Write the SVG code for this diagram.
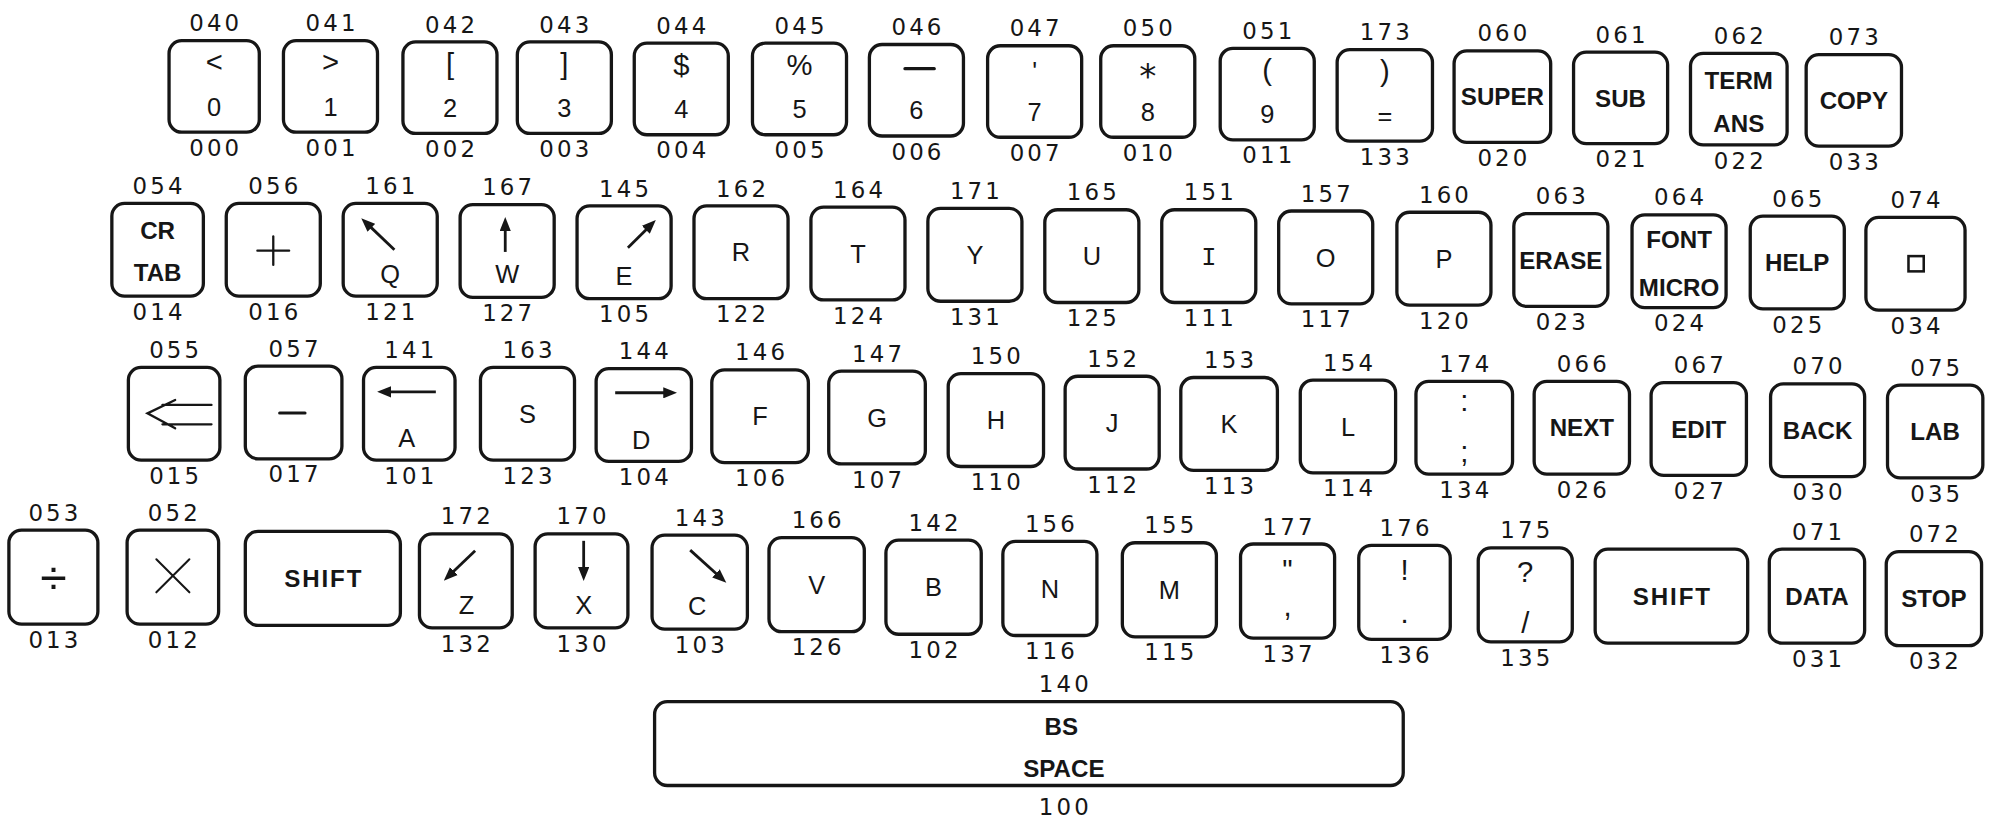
<svg xmlns="http://www.w3.org/2000/svg" width="1993" height="825" viewBox="0 0 1993 825">
<style>
.k{fill:#fff;stroke:#161616;stroke-width:2.6}
.c{font-family:"DejaVu Sans","Liberation Sans",sans-serif;font-size:18px;letter-spacing:2.5px;text-anchor:middle;fill:#161616}
.g{font-family:"Liberation Sans",Arial,sans-serif;font-size:20px;text-anchor:middle;fill:#161616}
.s{font-size:23px}
.m{font-family:"Liberation Mono",monospace;font-size:20px;text-anchor:middle;fill:#161616}
.b{font-family:"Liberation Sans",Arial,sans-serif;font-size:19px;font-weight:bold;text-anchor:middle;fill:#161616}
.sh{letter-spacing:1.5px}
.ln{stroke:#161616;stroke-width:2;fill:none;stroke-linecap:round}
.ar{stroke:#161616;stroke-width:2.2;fill:none;marker-end:url(#ah)}
</style>
<defs>
<marker id="ah" viewBox="0 0 10 8" refX="2" refY="4" markerWidth="11" markerHeight="9" markerUnits="userSpaceOnUse" orient="auto"><path d="M0,0 L10,4 L0,8 z" fill="#161616"/></marker>
</defs>
<rect width="1993" height="825" fill="#fff"/>
<g transform="scale(1.27105)">
<g id="row1">
<g id="k040" transform="translate(133,32)"><rect class="k" width="71" height="72" rx="10"/><text class="c" x="36.75" y="-7.4">040</text><text class="c" x="36.75" y="90.6">000</text><text class="g s" x="35.5" y="25">&lt;</text><text class="g" x="35.5" y="59">0</text></g>
<g id="k041" transform="translate(223,32)"><rect class="k" width="74" height="72" rx="10"/><text class="c" x="38.25" y="-7.4">041</text><text class="c" x="38.25" y="90.6">001</text><text class="g s" x="37" y="25">&gt;</text><text class="g" x="37" y="59">1</text></g>
<g id="k042" transform="translate(317,33)"><rect class="k" width="74" height="72" rx="10"/><text class="c" x="38.25" y="-7.4">042</text><text class="c" x="38.25" y="90.6">002</text><text class="g s" x="37" y="25">[</text><text class="g" x="37" y="59">2</text></g>
<g id="k043" transform="translate(407,33)"><rect class="k" width="74" height="72" rx="10"/><text class="c" x="38.25" y="-7.4">043</text><text class="c" x="38.25" y="90.6">003</text><text class="g s" x="37" y="25">]</text><text class="g" x="37" y="59">3</text></g>
<g id="k044" transform="translate(499,34)"><rect class="k" width="74" height="72" rx="10"/><text class="c" x="38.25" y="-7.4">044</text><text class="c" x="38.25" y="90.6">004</text><text class="g s" x="37" y="25">$</text><text class="g" x="37" y="59">4</text></g>
<g id="k045" transform="translate(592,34)"><rect class="k" width="74" height="72" rx="10"/><text class="c" x="38.25" y="-7.4">045</text><text class="c" x="38.25" y="90.6">005</text><text class="g s" x="37" y="25">%</text><text class="g" x="37" y="59">5</text></g>
<g id="k046" transform="translate(684,35)"><rect class="k" width="74" height="72" rx="10"/><text class="c" x="38.25" y="-7.4">046</text><text class="c" x="38.25" y="90.6">006</text><line class="ln" x1="28" y1="19" x2="51" y2="19" style="stroke-width:2.6"/><text class="g" x="37" y="59">6</text></g>
<g id="k047" transform="translate(777,36)"><rect class="k" width="74" height="72" rx="10"/><text class="c" x="38.25" y="-7.4">047</text><text class="c" x="38.25" y="90.6">007</text><text class="g" x="37" y="27">'</text><text class="g" x="37" y="59">7</text></g>
<g id="k050" transform="translate(866,36)"><rect class="k" width="74" height="72" rx="10"/><text class="c" x="38.25" y="-7.4">050</text><text class="c" x="38.25" y="90.6">010</text><text x="37" y="33" style="font-family:'DejaVu Sans',sans-serif;font-size:27px;text-anchor:middle;fill:#161616">*</text><text class="g" x="37" y="59">8</text></g>
<g id="k051" transform="translate(960,38)"><rect class="k" width="74" height="72" rx="10"/><text class="c" x="38.25" y="-7.4">051</text><text class="c" x="38.25" y="90.6">011</text><text class="g s" x="37" y="25">(</text><text class="g" x="37" y="59">9</text></g>
<g id="k173" transform="translate(1052,39)"><rect class="k" width="75" height="72" rx="10"/><text class="c" x="38.75" y="-7.4">173</text><text class="c" x="38.75" y="90.6">133</text><text class="g s" x="37.5" y="25">)</text><text class="g" x="37.5" y="59">=</text></g>
<g id="k060" transform="translate(1144,40)"><rect class="k" width="76" height="72" rx="10"/><text class="c" x="39.25" y="-7.4">060</text><text class="c" x="39.25" y="90.6">020</text><text class="b" x="38" y="42.8">SUPER</text></g>
<g id="k061" transform="translate(1238,41)"><rect class="k" width="74" height="72" rx="10"/><text class="c" x="38.25" y="-7.4">061</text><text class="c" x="38.25" y="90.6">021</text><text class="b" x="37" y="42.8">SUB</text></g>
<g id="k062" transform="translate(1330,42)"><rect class="k" width="76" height="72" rx="10"/><text class="c" x="39.25" y="-7.4">062</text><text class="c" x="39.25" y="90.6">022</text><text class="b" x="38" y="28.4">TERM</text><text class="b" x="38" y="61.5">ANS</text></g>
<g id="k073" transform="translate(1421,43)"><rect class="k" width="75" height="72" rx="10"/><text class="c" x="38.75" y="-7.4">073</text><text class="c" x="38.75" y="90.6">033</text><text class="b" x="37.5" y="42.8">COPY</text></g>
</g>
<g id="row2">
<g id="k054" transform="translate(88,160)"><rect class="k" width="72" height="73" rx="10"/><text class="c" x="37.25" y="-7.4">054</text><text class="c" x="37.25" y="91.6">014</text><text class="b" x="36" y="28.4">CR</text><text class="b" x="36" y="60.8">TAB</text></g>
<g id="k056" transform="translate(178,160)"><rect class="k" width="74" height="73" rx="10"/><text class="c" x="38.25" y="-7.4">056</text><text class="c" x="38.25" y="91.6">016</text><line class="ln" x1="24.5" y1="37.2" x2="49.5" y2="37.2" style="stroke-width:1.8"/><line class="ln" x1="37" y1="26" x2="37" y2="48.4" style="stroke-width:1.8"/></g>
<g id="k161" transform="translate(270,160)"><rect class="k" width="74" height="73" rx="10"/><text class="c" x="38.25" y="-7.4">161</text><text class="c" x="38.25" y="91.6">121</text><line class="ar" x1="40.3" y1="36.5" x2="20.6" y2="17.7"/><text class="g" x="37" y="62.7">Q</text></g>
<g id="k167" transform="translate(362,161)"><rect class="k" width="74" height="73" rx="10"/><text class="c" x="38.25" y="-7.4">167</text><text class="c" x="38.25" y="91.6">127</text><line class="ar" x1="35.5" y1="37.2" x2="35.5" y2="18.6"/><text class="g" x="37" y="62">W</text></g>
<g id="k145" transform="translate(454,162)"><rect class="k" width="74" height="73" rx="10"/><text class="c" x="38.25" y="-7.4">145</text><text class="c" x="38.25" y="91.6">105</text><line class="ar" x1="40" y1="32.9" x2="55.7" y2="17.3"/><text class="g" x="37" y="62">E</text></g>
<g id="k162" transform="translate(546,162)"><rect class="k" width="74" height="73" rx="10"/><text class="c" x="38.25" y="-7.4">162</text><text class="c" x="38.25" y="91.6">122</text><text class="g" x="37" y="43.7">R</text></g>
<g id="k164" transform="translate(638,163)"><rect class="k" width="74" height="73" rx="10"/><text class="c" x="38.25" y="-7.4">164</text><text class="c" x="38.25" y="91.6">124</text><text class="g" x="37" y="43.7">T</text></g>
<g id="k171" transform="translate(730,164)"><rect class="k" width="74" height="73" rx="10"/><text class="c" x="38.25" y="-7.4">171</text><text class="c" x="38.25" y="91.6">131</text><text class="g" x="37" y="43.7">Y</text></g>
<g id="k165" transform="translate(822,165)"><rect class="k" width="74" height="73" rx="10"/><text class="c" x="38.25" y="-7.4">165</text><text class="c" x="38.25" y="91.6">125</text><text class="g" x="37" y="43.7">U</text></g>
<g id="k151" transform="translate(914,165)"><rect class="k" width="74" height="73" rx="10"/><text class="c" x="38.25" y="-7.4">151</text><text class="c" x="38.25" y="91.6">111</text><text class="m" x="37" y="43.7">I</text></g>
<g id="k157" transform="translate(1006,166)"><rect class="k" width="74" height="73" rx="10"/><text class="c" x="38.25" y="-7.4">157</text><text class="c" x="38.25" y="91.6">117</text><text class="g" x="37" y="43.7">O</text></g>
<g id="k160" transform="translate(1099,167)"><rect class="k" width="74" height="73" rx="10"/><text class="c" x="38.25" y="-7.4">160</text><text class="c" x="38.25" y="91.6">120</text><text class="g" x="37" y="43.7">P</text></g>
<g id="k063" transform="translate(1191,168)"><rect class="k" width="74" height="73" rx="10"/><text class="c" x="38.25" y="-7.4">063</text><text class="c" x="38.25" y="91.6">023</text><text class="b" x="37" y="43.3">ERASE</text></g>
<g id="k064" transform="translate(1284,169)"><rect class="k" width="74" height="73" rx="10"/><text class="c" x="38.25" y="-7.4">064</text><text class="c" x="38.25" y="91.6">024</text><text class="b" x="37" y="26.5">FONT</text><text class="b" x="37" y="64">MICRO</text></g>
<g id="k065" transform="translate(1377,170)"><rect class="k" width="74" height="73" rx="10"/><text class="c" x="38.25" y="-7.4">065</text><text class="c" x="38.25" y="91.6">025</text><text class="b" x="37" y="43.3">HELP</text></g>
<g id="k074" transform="translate(1468,171)"><rect class="k" width="78" height="73" rx="10"/><text class="c" x="40.25" y="-7.4">074</text><text class="c" x="40.25" y="91.6">034</text><rect x="33.5" y="30.5" width="12" height="12" fill="none" stroke="#161616" stroke-width="2"/></g>
</g>
<g id="row3">
<g id="k055" transform="translate(101,289)"><rect class="k" width="72" height="73" rx="10"/><text class="c" x="37.25" y="-7.4">055</text><text class="c" x="37.25" y="91.6">015</text><path class="ln" d="M36.8,25.7 L15,36.2 L36.8,48 M26.8,29.6 L65.4,29.6 M26.8,44.8 L65.4,44.8" style="stroke-width:1.8"/></g>
<g id="k057" transform="translate(193,288)"><rect class="k" width="76" height="73" rx="10"/><text class="c" x="39.25" y="-7.4">057</text><text class="c" x="39.25" y="91.6">017</text><line class="ln" x1="27" y1="37" x2="47" y2="37" style="stroke-width:2.4"/></g>
<g id="k141" transform="translate(286,289)"><rect class="k" width="72" height="73" rx="10"/><text class="c" x="37.25" y="-7.4">141</text><text class="c" x="37.25" y="91.6">101</text><line class="ar" x1="56.9" y1="19.3" x2="19.5" y2="19.3"/><text class="g" x="34" y="62.7">A</text></g>
<g id="k163" transform="translate(378,289)"><rect class="k" width="74" height="73" rx="10"/><text class="c" x="38.25" y="-7.4">163</text><text class="c" x="38.25" y="91.6">123</text><text class="g" x="37" y="43.7">S</text></g>
<g id="k144" transform="translate(469,290)"><rect class="k" width="75" height="73" rx="10"/><text class="c" x="38.75" y="-7.4">144</text><text class="c" x="38.75" y="91.6">104</text><line class="ar" x1="15" y1="19" x2="55" y2="19"/><text class="g" x="35.5" y="63.5">D</text></g>
<g id="k146" transform="translate(560,291)"><rect class="k" width="76" height="73" rx="10"/><text class="c" x="39.25" y="-7.4">146</text><text class="c" x="39.25" y="91.6">106</text><text class="g" x="38" y="43.7">F</text></g>
<g id="k147" transform="translate(652,292)"><rect class="k" width="76" height="73" rx="10"/><text class="c" x="39.25" y="-7.4">147</text><text class="c" x="39.25" y="91.6">107</text><text class="g" x="38" y="43.7">G</text></g>
<g id="k150" transform="translate(746,294)"><rect class="k" width="75" height="73" rx="10"/><text class="c" x="38.75" y="-7.4">150</text><text class="c" x="38.75" y="91.6">110</text><text class="g" x="37.5" y="43.7">H</text></g>
<g id="k152" transform="translate(838,296)"><rect class="k" width="74" height="73" rx="10"/><text class="c" x="38.25" y="-7.4">152</text><text class="c" x="38.25" y="91.6">112</text><text class="g" x="37" y="43.7">J</text></g>
<g id="k153" transform="translate(929,297)"><rect class="k" width="76" height="73" rx="10"/><text class="c" x="39.25" y="-7.4">153</text><text class="c" x="39.25" y="91.6">113</text><text class="g" x="38" y="43.7">K</text></g>
<g id="k154" transform="translate(1023,299)"><rect class="k" width="75" height="73" rx="10"/><text class="c" x="38.75" y="-7.4">154</text><text class="c" x="38.75" y="91.6">114</text><text class="g" x="37.5" y="43.7">L</text></g>
<g id="k174" transform="translate(1114,300)"><rect class="k" width="76" height="73" rx="10"/><text class="c" x="39.25" y="-7.4">174</text><text class="c" x="39.25" y="91.6">134</text><text class="g s" x="38" y="23.5">:</text><text class="g s" x="38" y="63.7">;</text></g>
<g id="k066" transform="translate(1207,300)"><rect class="k" width="75" height="73" rx="10"/><text class="c" x="38.75" y="-7.4">066</text><text class="c" x="38.75" y="91.6">026</text><text class="b" x="37.5" y="43.3">NEXT</text></g>
<g id="k067" transform="translate(1299,301)"><rect class="k" width="75" height="73" rx="10"/><text class="c" x="38.75" y="-7.4">067</text><text class="c" x="38.75" y="91.6">027</text><text class="b" x="37.5" y="43.3">EDIT</text></g>
<g id="k070" transform="translate(1393,302)"><rect class="k" width="74" height="73" rx="10"/><text class="c" x="38.25" y="-7.4">070</text><text class="c" x="38.25" y="91.6">030</text><text class="b" x="37" y="43.3">BACK</text></g>
<g id="k075" transform="translate(1485,303)"><rect class="k" width="75" height="73" rx="10"/><text class="c" x="38.75" y="-7.4">075</text><text class="c" x="38.75" y="91.6">035</text><text class="b" x="37.5" y="43.3">LAB</text></g>
</g>
<g id="row4">
<g id="k053" transform="translate(7,417)"><rect class="k" width="70" height="74" rx="10"/><text class="c" x="36.25" y="-7.4">053</text><text class="c" x="36.25" y="92.6">013</text><text class="g" x="35" y="50" style="font-size:38px">÷</text></g>
<g id="k052" transform="translate(100,417)"><rect class="k" width="72" height="74" rx="10"/><text class="c" x="37.25" y="-7.4">052</text><text class="c" x="37.25" y="92.6">012</text><path class="ln" d="M23,23 L49,49 M49,23 L23,49" style="stroke-width:1.6"/></g>
<g id="kshiftL" transform="translate(193,418)"><rect class="k" width="122" height="74" rx="10"/><text class="b sh" x="61.75" y="43.8">SHIFT</text></g>
<g id="k172" transform="translate(330,420)"><rect class="k" width="73" height="74" rx="10"/><text class="c" x="37.75" y="-7.4">172</text><text class="c" x="37.75" y="92.6">132</text><line class="ar" x1="43.8" y1="13.3" x2="25.5" y2="30.8"/><text class="g" x="37" y="62.7">Z</text></g>
<g id="k170" transform="translate(421,420)"><rect class="k" width="73" height="74" rx="10"/><text class="c" x="37.75" y="-7.4">170</text><text class="c" x="37.75" y="92.6">130</text><line class="ar" x1="38.2" y1="5.5" x2="38.2" y2="28.3"/><text class="g" x="38.2" y="63.4">X</text></g>
<g id="k143" transform="translate(513,421)"><rect class="k" width="75" height="74" rx="10"/><text class="c" x="38.75" y="-7.4">143</text><text class="c" x="38.75" y="92.6">103</text><line class="ar" x1="30" y1="11.8" x2="51.9" y2="31.6"/><text class="g" x="35.5" y="62.7">C</text></g>
<g id="k166" transform="translate(605,423)"><rect class="k" width="75" height="74" rx="10"/><text class="c" x="38.75" y="-7.4">166</text><text class="c" x="38.75" y="92.6">126</text><text class="g" x="37.5" y="44.2">V</text></g>
<g id="k142" transform="translate(697,425)"><rect class="k" width="75" height="74" rx="10"/><text class="c" x="38.75" y="-7.4">142</text><text class="c" x="38.75" y="92.6">102</text><text class="g" x="37.5" y="44.2">B</text></g>
<g id="k156" transform="translate(789,426)"><rect class="k" width="74" height="74" rx="10"/><text class="c" x="38.25" y="-7.4">156</text><text class="c" x="38.25" y="92.6">116</text><text class="g" x="37" y="44.2">N</text></g>
<g id="k155" transform="translate(883,427)"><rect class="k" width="74" height="74" rx="10"/><text class="c" x="38.25" y="-7.4">155</text><text class="c" x="38.25" y="92.6">115</text><text class="g" x="37" y="44.2">M</text></g>
<g id="k177" transform="translate(976,428)"><rect class="k" width="74" height="74" rx="10"/><text class="c" x="38.25" y="-7.4">177</text><text class="c" x="38.25" y="92.6">137</text><text class="g s" x="37" y="28">"</text><text class="g s" x="37" y="57">,</text></g>
<g id="k176" transform="translate(1069,429)"><rect class="k" width="72" height="74" rx="10"/><text class="c" x="37.25" y="-7.4">176</text><text class="c" x="37.25" y="92.6">136</text><text class="g s" x="36" y="27.5">!</text><text class="g s" x="36" y="61">.</text></g>
<g id="k175" transform="translate(1163,431)"><rect class="k" width="74" height="74" rx="10"/><text class="c" x="38.25" y="-7.4">175</text><text class="c" x="38.25" y="92.6">135</text><text class="g s" x="37" y="27">?</text><text class="g s" x="37" y="67">/</text></g>
<g id="kshiftR" transform="translate(1255,432)"><rect class="k" width="120" height="74" rx="10"/><text class="b sh" x="60.75" y="43.8">SHIFT</text></g>
<g id="k071" transform="translate(1392,432)"><rect class="k" width="75" height="74" rx="10"/><text class="c" x="38.75" y="-7.4">071</text><text class="c" x="38.75" y="92.6">031</text><text class="b" x="37.5" y="43.8">DATA</text></g>
<g id="k072" transform="translate(1484,434)"><rect class="k" width="75" height="74" rx="10"/><text class="c" x="38.75" y="-7.4">072</text><text class="c" x="38.75" y="92.6">032</text><text class="b" x="37.5" y="43.8">STOP</text></g>
</g>
<g id="k140" transform="translate(515,552)"><rect class="k" width="589" height="66" rx="10"/><text class="c" x="323.25" y="-7.4">140</text><text class="c" x="323.25" y="89.6">100</text><text class="b" x="320" y="26.3">BS</text><text class="b" x="322" y="59.6">SPACE</text></g>
</g>
<g id="connectors"/>
</svg>
